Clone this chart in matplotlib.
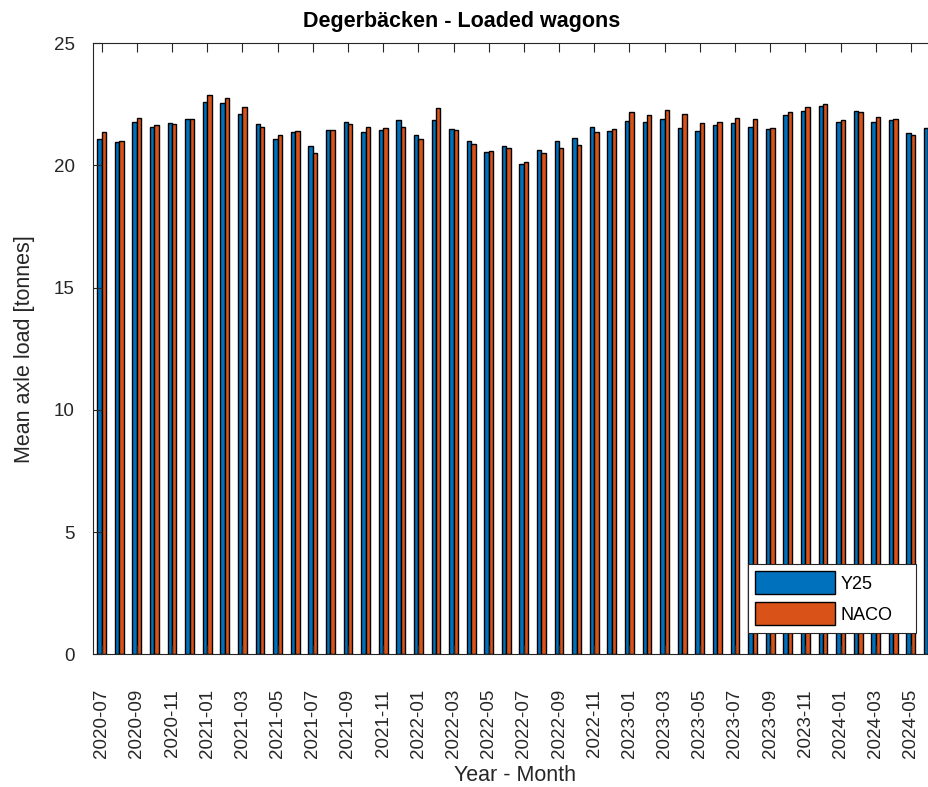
import numpy as np
import matplotlib
matplotlib.use("Agg")
import matplotlib.pyplot as plt

plt.rcParams['font.family'] = ['Liberation Sans', 'DejaVu Sans']

# Monthly mean axle load per wagon type
months = ['2020-07', '2020-08', '2020-09', '2020-10', '2020-11', '2020-12',
          '2021-01', '2021-02', '2021-03', '2021-04', '2021-05', '2021-06',
          '2021-07', '2021-08', '2021-09', '2021-10', '2021-11', '2021-12',
          '2022-01', '2022-02', '2022-03', '2022-04', '2022-05', '2022-06',
          '2022-07', '2022-08', '2022-09', '2022-10', '2022-11', '2022-12',
          '2023-01', '2023-02', '2023-03', '2023-04', '2023-05', '2023-06',
          '2023-07', '2023-08', '2023-09', '2023-10', '2023-11', '2023-12',
          '2024-01', '2024-02', '2024-03', '2024-04', '2024-05', '2024-06']

y25 = [21.10, 20.96, 21.77, 21.58, 21.74, 21.89,
       22.61, 22.57, 22.09, 21.71, 21.08, 21.39,
       20.80, 21.44, 21.76, 21.39, 21.47, 21.88,
       21.24, 21.85, 21.49, 21.02, 20.54, 20.81,
       20.05, 20.63, 20.99, 21.14, 21.57, 21.43,
       21.82, 21.79, 21.92, 21.55, 21.41, 21.66,
       21.74, 21.58, 21.49, 22.07, 22.21, 22.42,
       21.76, 22.21, 21.79, 21.86, 21.33, 21.52]

naco = [21.39, 21.02, 21.94, 21.67, 21.69, 21.92,
        22.90, 22.75, 22.41, 21.58, 21.24, 21.43,
        20.53, 21.47, 21.70, 21.56, 21.55, 21.59,
        21.10, 22.34, 21.45, 20.87, 20.61, 20.72,
        20.16, 20.50, 20.73, 20.84, 21.37, 21.51,
        22.18, 22.07, 22.27, 22.09, 21.74, 21.79,
        21.95, 21.91, 21.52, 22.20, 22.41, 22.53,
        21.86, 22.19, 22.00, 21.92, 21.24, 21.50]

series_names = ['Y25', 'NACO']
colors = ['#0072BD', '#D95319']
text_color = '#262626'

W, H = 929, 787
fig = plt.figure(figsize=(W / 100, H / 100), dpi=100)
# axes extends a little past the right edge of the canvas
ax = fig.add_axes([0.1004, 0.1686, 0.9085, 0.7764])

x = np.arange(len(months))
w = 0.25
ax.bar(x - w / 2, y25, width=w, color=colors[0], edgecolor='black',
       linewidth=1.0, label=series_names[0])
ax.bar(x + w / 2, naco, width=w, color=colors[1], edgecolor='black',
       linewidth=1.0, label=series_names[1])

ax.set_xlim(-0.48, len(months) - 0.5)
ax.set_ylim(0, 25)
ax.set_yticks([0, 5, 10, 15, 20, 25])
ax.set_xticks(x[::2])
ax.set_xticklabels(months[::2], rotation=90)

ax.tick_params(axis='both', direction='in', length=6.5, width=0.8,
               colors=text_color, labelsize=13.5, top=True, right=True)
ax.tick_params(axis='x', pad=25)
ax.tick_params(axis='y', pad=13.5)
for s in ax.spines.values():
    s.set_color(text_color)
    s.set_linewidth(0.8)

ax.set_title('Degerbäcken - Loaded wagons', fontsize=15.5, fontweight='bold',
             color='black', pad=12, x=0.437)
ax.set_ylabel('Mean axle load [tonnes]', fontsize=15.5, color=text_color, labelpad=13.5)
ax.set_xlabel('Year - Month', fontsize=15.5, color=text_color, labelpad=5)

# legend box spans a fixed region in figure pixels
lx0, lx1, ly0, ly1 = 748, 916, 563.3, 632.7
leg = ax.legend(loc='lower left',
                bbox_to_anchor=(lx0 / W, (H - ly1) / H, (lx1 - lx0) / W, (ly1 - ly0) / H),
                bbox_transform=fig.transFigure, mode='expand',
                fontsize=13, frameon=True, fancybox=False, framealpha=1,
                edgecolor=text_color, handlelength=4.4, handleheight=1.58,
                labelspacing=0.44, handletextpad=0.3, borderpad=0.41,
                borderaxespad=0)
leg.get_frame().set_linewidth(0.8)

fig.savefig('out.png', dpi=100)
